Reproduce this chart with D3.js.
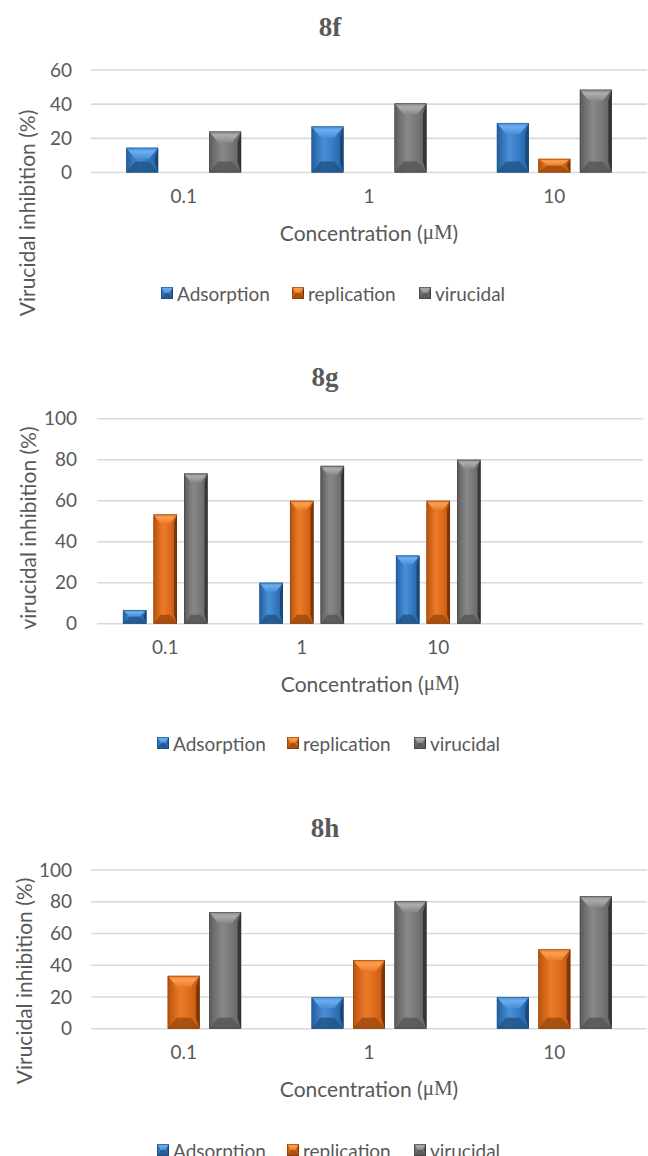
<!DOCTYPE html>
<html>
<head>
<meta charset="utf-8">
<script src="https://cdn.jsdelivr.net/npm/d3@7"></script>
<style>
  html, body { margin: 0; padding: 0; background: #ffffff; }
  svg { display: block; }
  text { font-family: "Lato", "Open Sans", sans-serif; fill: #595959; }
</style>
</head>
<body>
<svg id="fig" width="648" height="1156"></svg>
<script>
// ---- data -------------------------------------------------------------
const seriesNames = ["Adsorption", "replication", "virucidal"];
const concentrations = ["0.1", "1", "10"];
const concentrations8g = ["0.1", "1", "10", ""];   // 8g has an empty fourth slot

const adsorption8f  = [14.5, 27, 29];
const replication8f = [0, 0, 8];
const virucidal8f   = [24, 40.5, 48.5];

const adsorption8g  = [6.7, 20, 33.3];
const replication8g = [53.3, 60, 60];
const virucidal8g   = [73.3, 77, 80];

const adsorption8h  = [0, 20, 20];
const replication8h = [33.3, 43.3, 50];
const virucidal8h   = [73.5, 80.5, 83.5];

const ticks8f  = [0, 20, 40, 60];
const ticks100 = [0, 20, 40, 60, 80, 100];

// ---- bevel colours per series ----------------------------------------
const bevel = {
  Adsorption:  { dark: "#24609f", face: "#3479c2", light: "#4a8fd6", top: "#6aaef2", left: "#2a69ab", right: "#1b4878", bottom: "#22558a", edge: "#1a416a" },
  replication: { dark: "#b9540f", face: "#dc6a1c", light: "#ec7b28", top: "#fba052", left: "#c45a12", right: "#7a3608", bottom: "#a04a0e", edge: "#6a3007" },
  virucidal:   { dark: "#5e5e5e", face: "#777777", light: "#888888", top: "#adadad", left: "#636363", right: "#363636", bottom: "#575757", edge: "#2e2e2e" }
};

const svg = d3.select("#fig");
const defs = svg.append("defs");

// shading for each bar face and its top slope
Object.entries(bevel).forEach(([name, c]) => {
  const lg = defs.append("linearGradient").attr("id", "face-" + name)
    .attr("x1", 0).attr("x2", 1).attr("y1", 0).attr("y2", 0);
  lg.append("stop").attr("offset", "0%").attr("stop-color", c.dark);
  lg.append("stop").attr("offset", "40%").attr("stop-color", c.light);
  lg.append("stop").attr("offset", "70%").attr("stop-color", c.face);
  lg.append("stop").attr("offset", "100%").attr("stop-color", c.dark);
  const tg = defs.append("linearGradient").attr("id", "top-" + name)
    .attr("x1", 0).attr("x2", 0).attr("y1", 0).attr("y2", 1);
  tg.append("stop").attr("offset", "0%").attr("stop-color", c.light);
  tg.append("stop").attr("offset", "35%").attr("stop-color", c.top);
  tg.append("stop").attr("offset", "100%").attr("stop-color", c.light);
});

// Draws one bevelled bar (shaded face with four slanted edges)
function bevelBar(g, x0, y0, w, h, name, maxS) {
  if (h <= 0) return;
  const c = bevel[name];
  const x1 = x0 + w, y1 = y0 + h;
  const s = Math.min(maxS + 2, h / 2);
  const sh = Math.min(maxS, w / 2.4);
  const side = Math.min(3.5, w / 8);
  const pts = a => a.map(p => p.join(",")).join(" ");
  g.append("rect").attr("x", x0).attr("y", y0).attr("width", w).attr("height", h).attr("fill", `url(#face-${name})`);
  // thin left / right edges
  g.append("polygon").attr("points", pts([[x0, y0], [x0 + side, y0 + s], [x0 + side, y1 - s], [x0, y1]])).attr("fill", c.left).attr("opacity", 0.8);
  g.append("polygon").attr("points", pts([[x1, y0], [x1 - side, y0 + s], [x1 - side, y1 - s], [x1, y1]])).attr("fill", c.right);
  // top / bottom slopes
  g.append("polygon").attr("points", pts([[x0, y0], [x1, y0], [x1 - sh, y0 + s], [x0 + sh, y0 + s]])).attr("fill", `url(#top-${name})`);
  g.append("polygon").attr("points", pts([[x0, y1], [x1, y1], [x1 - sh, y1 - s], [x0 + sh, y1 - s]])).attr("fill", c.bottom).attr("opacity", 0.85);
  g.append("rect").attr("x", x0 + 0.4).attr("y", y0 + 0.4).attr("width", w - 0.8).attr("height", Math.max(0, h - 0.8))
    .attr("fill", "none").attr("stroke", c.edge).attr("stroke-width", 0.8).attr("stroke-opacity", 0.5);
}

function drawChart(opt) {
  const g = svg.append("g");
  const x = d3.scaleBand().domain(opt.categories).range([opt.left, opt.right]).paddingInner(0.38).paddingOuter(0.19);
  const xs = d3.scaleBand().domain(seriesNames).range([0, x.bandwidth()]).paddingInner(0.23);
  const y = d3.scaleLinear().domain([0, d3.max(opt.ticks)]).range([opt.zeroY, opt.topY]);

  // gridlines
  g.append("g").selectAll("line").data(opt.ticks).join("line")
    .attr("x1", opt.left).attr("x2", opt.right)
    .attr("y1", d => y(d)).attr("y2", d => y(d))
    .attr("stroke", "#d9d9d9").attr("stroke-width", 1.6);

  // y axis labels
  const ya = g.append("g").attr("transform", `translate(${opt.left},0)`)
    .call(d3.axisLeft(y).tickValues(opt.ticks).tickSize(0).tickPadding(opt.yPad));
  ya.select(".domain").remove();
  ya.selectAll("text").style("font-size", "19px").style("fill", "#595959").style("font-family", "Lato");

  // x axis labels
  const xa = g.append("g").attr("transform", `translate(0,${opt.zeroY})`)
    .call(d3.axisBottom(x).tickSize(0).tickPadding(17));
  xa.select(".domain").remove();
  xa.selectAll("text").style("font-size", "19px").style("fill", "#595959").style("font-family", "Lato");

  // bars
  const bars = g.append("g");
  opt.series.forEach((vals, si) => {
    const name = seriesNames[si];
    vals.forEach((v, ci) => {
      const cx = x(opt.categories[ci]) + xs(name);
      bevelBar(bars, cx, y(v), xs.bandwidth(), y(0) - y(v), name, opt.bevel);
    });
  });

  // chart title
  g.append("text").attr("x", opt.titleX).attr("y", opt.titleY)
    .attr("text-anchor", "middle").attr("dominant-baseline", "central")
    .style("font-family", "'Liberation Serif', 'Times New Roman', serif").style("font-weight", "bold")
    .style("font-size", "27px").style("fill", "#595959").text(opt.title);

  // x title
  const xt = g.append("text").attr("x", (opt.left + opt.right) / 2).attr("y", opt.zeroY + 59.5)
    .attr("text-anchor", "middle").attr("dominant-baseline", "central").style("font-size", "21px");
  xt.append("tspan").text("Concentration (");
  xt.append("tspan").style("font-family", "'Liberation Serif', serif").text("μM");
  xt.append("tspan").text(")");

  // y title
  g.append("text").attr("transform", `translate(${opt.yTitleX},${opt.yTitleY}) rotate(-90)`)
    .attr("text-anchor", "middle").attr("dominant-baseline", "central")
    .style("font-size", "21px").text(opt.yTitle);

  // legend
  const lg = g.append("g").attr("transform", `translate(0,${opt.legendY})`);
  seriesNames.forEach((name, i) => {
    const lx = opt.legendX[i];
    bevelBar(lg, lx, -6, 12, 12, name, 4);
    lg.append("text").attr("x", lx + 16).attr("y", 0).attr("dominant-baseline", "central")
      .style("font-size", "19px").text(name);
  });
}

drawChart({
  title: "8f", titleX: 330, titleY: 27,
  categories: concentrations, series: [adsorption8f, replication8f, virucidal8f],
  ticks: ticks8f, left: 91, right: 647, zeroY: 172.5, topY: 70, yPad: 19, bevel: 9,
  yTitle: "Virucidal inhibition (%)", yTitleX: 26, yTitleY: 213,
  legendY: 293, legendX: [161, 292, 419]
});

drawChart({
  title: "8g", titleX: 325, titleY: 377,
  categories: concentrations8g, series: [adsorption8g, replication8g, virucidal8g],
  ticks: ticks100, left: 97, right: 643, zeroY: 623.7, topY: 418.7, yPad: 20, bevel: 7,
  yTitle: "virucidal inhibition (%)", yTitleX: 27, yTitleY: 528,
  legendY: 743, legendX: [157, 287, 414]
});

drawChart({
  title: "8h", titleX: 325, titleY: 828,
  categories: concentrations, series: [adsorption8h, replication8h, virucidal8h],
  ticks: ticks100, left: 91, right: 647, zeroY: 1028.7, topY: 870, yPad: 19, bevel: 9,
  yTitle: "Virucidal inhibition (%)", yTitleX: 23, yTitleY: 981,
  legendY: 1150, legendX: [157, 287, 414]
});
</script>
</body>
</html>
